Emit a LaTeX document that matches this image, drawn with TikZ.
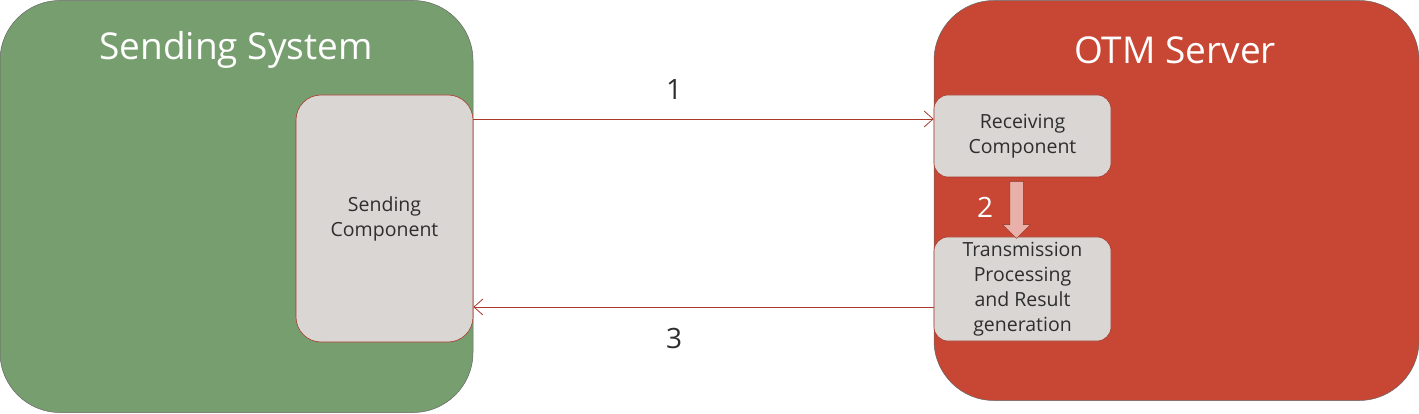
\documentclass[tikz,border=0pt]{standalone}
\usepackage{fontspec}
\setmainfont{Open Sans}
\usetikzlibrary{arrows.meta,shapes.arrows}
\definecolor{sysgreen}{HTML}{779E6E}
\definecolor{otmred}{HTML}{C74634}
\definecolor{compgray}{HTML}{D9D6D3}
\definecolor{edgered}{HTML}{A8392B}
\definecolor{txtgray}{HTML}{2E2E2E}
\definecolor{blockpink}{HTML}{E8B0A8}
\begin{document}
\begin{tikzpicture}[x=1pt,y=-1pt,
  system/.style={draw=black!60,line width=0.5pt,rounded corners=60pt,inner sep=0pt},
  systitle/.style={text=white,font=\fontsize{37}{42}\selectfont,inner sep=0pt},
  comp/.style={draw=edgered,line width=0.6pt,fill=compgray,text=txtgray,align=center,
    font=\fontsize{19.5}{25}\selectfont,inner sep=0pt},
  msg/.style={draw=edgered,line width=0.8pt,-{Straight Barb[length=9pt,width=16pt]}},
  steplabel/.style={font=\fontsize{28}{32}\selectfont,inner sep=0pt}]
\useasboundingbox (0,0) rectangle (1419,414);
% the two systems
\node[system,fill=sysgreen,minimum width=473pt,minimum height=412pt] (sendsys) at (236.5,206.5) {};
\node[system,fill=otmred,minimum width=485pt,minimum height=400pt] (otm) at (1176.5,200.5) {};
\node[systitle] (sendtitle) at (236,50) {Sending System};
\node[systitle] (otmtitle) at (1175,50) {OTM Server};
% components
\node[comp,rounded corners=25pt,minimum width=177pt,minimum height=247pt] (send) at (384.5,218.5) {Sending\\Component};
\node[comp,rounded corners=14pt,minimum width=177pt,minimum height=82pt] (recv) at (1022.5,136) {Receiving\\Component};
\node[comp,rounded corners=14pt,minimum width=177pt,minimum height=104pt] (trans) at (1022.5,289) {Transmission\\Processing\\and Result\\generation};
% transfer inside OTM
\node[single arrow,draw=otmred!70!black,line width=0.4pt,fill=blockpink,shape border rotate=270,
  minimum width=27pt,single arrow head extend=7pt,single arrow head indent=0pt,
  minimum height=57pt,inner xsep=6.5pt,inner ysep=0pt] (step2) at (1016.5,206.5) {};
\node[steplabel,text=white] (lab2) at (985,207) {2};
% messages
\coordinate (out1) at ([yshift=17pt]recv.west);
\coordinate (back3) at ([yshift=-18pt]trans.west);
\draw[msg] (send.east |- out1) -- (out1);
\draw[msg] (back3) -- (send.east |- back3);
\node[steplabel,text=txtgray] (lab1) at (674,90) {1};
\node[steplabel,text=txtgray] (lab3) at (674,338) {3};
\end{tikzpicture}
\end{document}
